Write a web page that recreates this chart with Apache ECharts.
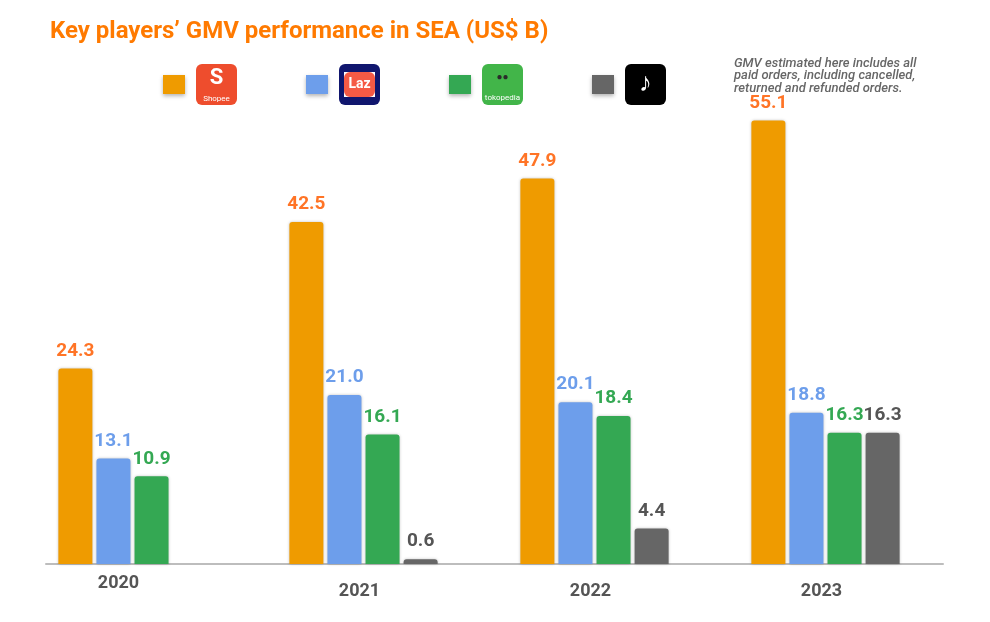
<!DOCTYPE html>
<html>
<head>
<meta charset="utf-8">
<script src="https://cdn.jsdelivr.net/npm/echarts@6/dist/echarts.min.js"></script>
<style>
  html, body { margin: 0; padding: 0; background: #fff; }
  #chart { width: 990px; height: 622px; }
</style>
</head>
<body>
<div id="chart"></div>
<script>
// data
const years = ['2020', '2021', '2022', '2023'];
const shopee = [24.3, 42.5, 47.9, 55.1];
const lazada = [13.1, 21.0, 20.1, 18.8];
const tokopedia = [10.9, 16.1, 18.4, 16.3];
const tiktok = [null, 0.6, 4.4, 16.3];

const seriesNames = ['Shopee', 'Lazada', 'Tokopedia', 'TikTok Shop'];
const barColors = ['#ef9b00', '#6d9eeb', '#34a853', '#666666'];
const labelColors = ['#ff7426', '#6d9eeb', '#34a853', '#555555'];

const FONT = 'Roboto';

const chart = echarts.init(document.getElementById('chart'), null, { renderer: 'canvas' });

// little logo boxes drawn as rich text next to each legend square
const logos = {
  'Shopee': '{sp|}{shA|S}\n{sp|}{shB|Shopee}',
  'Lazada': '{sp|}{lzT| }\n{sp|}{lzS| }{lzM|Laz}{lzS| }\n{sp|}{lzB| }',
  'Tokopedia': '{sp|}{tkA|●●}\n{sp|}{tkB|tokopedia}',
  'TikTok Shop': '{sp|}{tt|♪}'
};

const makeSeries = (name, data, i) => ({
  name: name,
  type: 'bar',
  data: data,
  barWidth: 34,
  barGap: '12%',
  itemStyle: {
    color: barColors[i],
    borderRadius: [3, 3, 0, 0],
    shadowColor: 'rgba(0,0,0,0.25)',
    shadowBlur: 3
  },
  label: {
    show: true,
    position: 'top',
    distance: 8,
    color: labelColors[i],
    fontFamily: FONT,
    fontWeight: 'bold',
    fontSize: 19,
    formatter: (p) => p.value == null ? '' : Number(p.value).toFixed(1)
  }
});

const option = {
  backgroundColor: '#fff',
  animation: false,
  title: [
    {
      text: 'Key players’ GMV performance in SEA (US$ B)',
      left: 45,
      top: 15,
      textStyle: { color: '#ff7a00', fontFamily: FONT, fontWeight: 'bold', fontSize: 24 }
    },
    {
      text: 'GMV estimated here includes all\npaid orders, including cancelled,\nreturned and refunded orders.',
      left: 729,
      top: 52,
      textStyle: { color: '#666666', fontFamily: FONT, fontStyle: 'italic', fontWeight: 500, fontSize: 13, lineHeight: 12.5 }
    }
  ],
  legend: {
    data: seriesNames,
    left: 163,
    top: 64,
    padding: 0,
    icon: 'rect',
    itemWidth: 22,
    itemHeight: 19,
    itemGap: 69,
    itemStyle: { shadowColor: 'rgba(0,0,0,0.3)', shadowBlur: 4, shadowOffsetY: 2, borderRadius: 0 },
    formatter: (name) => logos[name],
    textStyle: {
      fontFamily: FONT,
      rich: {
        sp: { width: 6, fontSize: 1, lineHeight: 1 },
        shA: { width: 41, height: 28, lineHeight: 28, backgroundColor: '#ee4d2d', borderRadius: [6, 6, 0, 0], color: '#fff', fontSize: 22, fontWeight: 'bold', align: 'center' },
        shB: { width: 41, height: 13, lineHeight: 13, backgroundColor: '#ee4d2d', borderRadius: [0, 0, 6, 6], color: '#fff', fontSize: 8, align: 'center' },
        lzT: { width: 41, height: 8, lineHeight: 8, backgroundColor: '#10166e', borderRadius: [6, 6, 0, 0], fontSize: 1 },
        lzS: { width: 5, height: 25, lineHeight: 25, backgroundColor: '#10166e', fontSize: 1 },
        lzM: { width: 31, height: 25, lineHeight: 25, backgroundColor: '#f55a45', borderRadius: 6, color: '#fff', fontSize: 14, fontWeight: 'bold', align: 'center' },
        lzB: { width: 41, height: 8, lineHeight: 8, backgroundColor: '#10166e', borderRadius: [0, 0, 6, 6], fontSize: 1 },
        tkA: { width: 41, height: 27, lineHeight: 27, backgroundColor: '#42b549', borderRadius: [6, 6, 0, 0], color: '#2b2b2b', fontSize: 10, align: 'center' },
        tkB: { width: 41, height: 14, lineHeight: 14, backgroundColor: '#42b549', borderRadius: [0, 0, 6, 6], color: '#fff', fontSize: 8, align: 'center' },
        tt: { width: 41, height: 41, lineHeight: 41, backgroundColor: '#000', borderRadius: 6, color: '#fff', fontSize: 26, fontWeight: 'bold', align: 'center' }
      }
    }
  },
  grid: [
    { left: 17, right: 49, top: 81, bottom: 58 },
    { left: 46, right: 47, top: 81, bottom: 58 }
  ],
  xAxis: [
    {
      type: 'category',
      gridIndex: 0,
      data: years,
      axisLine: { show: false },
      axisTick: { show: false },
      axisLabel: {
        margin: 10,
        formatter: (v, i) => i === 0 ? '{a|' + v + '}' : '{b|' + v + '}',
        rich: {
          a: { fontFamily: FONT, fontWeight: 'bold', fontSize: 18, color: '#555', padding: [0, 28, 0, 0] },
          b: { fontFamily: FONT, fontWeight: 'bold', fontSize: 18, color: '#555', padding: [8, 8, 0, 0] }
        }
      }
    },
    {
      type: 'category',
      gridIndex: 1,
      data: [''],
      axisLine: { show: true, lineStyle: { color: '#bdbdbd', width: 2 } },
      axisTick: { show: false },
      axisLabel: { show: false }
    }
  ],
  yAxis: [
    { type: 'value', gridIndex: 0, min: 0, max: 60, show: false },
    { type: 'value', gridIndex: 1, min: 0, max: 60, show: false }
  ],
  series: [
    makeSeries(seriesNames[0], shopee, 0),
    makeSeries(seriesNames[1], lazada, 1),
    makeSeries(seriesNames[2], tokopedia, 2),
    makeSeries(seriesNames[3], tiktok, 3)
  ]
};

chart.setOption(option);
window.addEventListener('resize', chart.resize);
</script>
</body>
</html>
